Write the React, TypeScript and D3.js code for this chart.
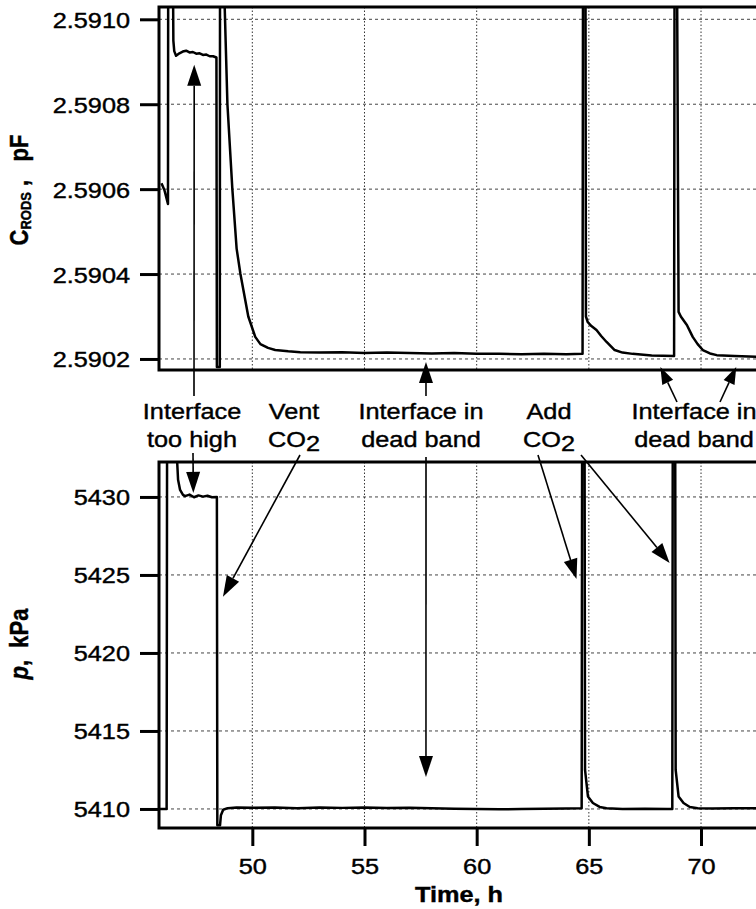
import React, { useEffect, useRef } from 'react'
import * as d3 from 'd3'

// time (h) and capacitance of the rods (pF)
const cTime = [45.95, 46.08, 46.24, 46.25, 46.46, 46.48, 46.52, 46.6, 46.75, 46.9, 47.05, 47.2, 47.35, 47.5, 47.65, 47.8, 47.95, 48.1, 48.25, 48.4,
  48.42, 48.55, 48.56, 48.7, 48.72, 48.89, 49.11, 49.3, 49.47, 49.82, 50.13, 50.36, 50.7, 51.02, 51.6, 52.14, 53, 54, 55, 56, 57, 58, 59, 60, 61, 62, 63, 64,
  64.72, 64.74, 64.85, 64.87, 64.95, 65.1, 65.34, 65.55, 65.79, 66.15, 66.5, 66.95, 67.8, 68.8,
  68.82, 68.93, 69.0, 69.1, 69.37, 69.63, 69.85, 70.08, 70.4, 70.7, 71.5, 72.54]
const cValue = [2.590614, 2.590598, 2.590565, 2.59112, 2.59112, 2.59095, 2.590925, 2.590914, 2.59092, 2.590924, 2.590926, 2.590922, 2.590923, 2.590919, 2.59092, 2.590916, 2.590917, 2.590913, 2.590913, 2.59091,
  2.590181, 2.590181, 2.59112, 2.59112, 2.59112, 2.5908, 2.5906, 2.59046, 2.5904, 2.5903, 2.590252, 2.590235, 2.590226, 2.590221, 2.590218, 2.590216, 2.590215, 2.590216, 2.590214, 2.590215, 2.590214, 2.590213, 2.590214, 2.590212, 2.590212, 2.590211, 2.590212, 2.590211,
  2.590212, 2.59112, 2.59112, 2.5903, 2.590287, 2.590278, 2.590268, 2.590254, 2.59024, 2.590221, 2.590215, 2.590212, 2.590208, 2.590207,
  2.59112, 2.59112, 2.590311, 2.5903, 2.59028, 2.590252, 2.590235, 2.590221, 2.590213, 2.590209, 2.590207, 2.590205]

// time (h) and pressure (kPa), lower panel
const pTime = [45.88, 46.18, 46.2, 46.62, 46.65, 46.69, 46.78, 46.91, 47.0, 47.2, 47.4, 47.6, 47.8, 48.0, 48.2, 48.42,
  48.44, 48.56, 48.6, 48.7, 48.9, 49.3, 50, 51, 52, 53, 54, 55, 56, 57, 58, 59, 60, 61, 62, 63, 64, 64.68,
  64.7, 64.81, 64.83, 64.96, 65.18, 65.48, 65.79, 66.5, 67.5, 68.5, 68.72,
  68.74, 68.85, 68.87, 69.0, 69.22, 69.5, 69.85, 70.5, 71.5, 72.54]
const pValue = [5410.0, 5410.0, 5433.5, 5433.5, 5432.24, 5431.1, 5430.45, 5430.13, 5430.05, 5430.15, 5429.98, 5430.1, 5430.02, 5430.08, 5429.98, 5430.0,
  5408.95, 5408.95, 5409.6, 5409.95, 5410.05, 5410.1, 5410.08, 5410.1, 5410.05, 5410.1, 5410.07, 5410.1, 5410.06, 5410.08, 5410.05, 5410.02, 5410.0, 5409.98, 5410.0, 5410.02, 5410.03, 5410.05,
  5433.5, 5433.5, 5412.5, 5410.8, 5410.38, 5410.13, 5410.05, 5410.0, 5410.02, 5410.0, 5410.0,
  5433.5, 5433.5, 5412.5, 5410.8, 5410.38, 5410.13, 5410.05, 5410.03, 5410.05, 5410.05]

const timeTicks = [50, 55, 60, 65, 70]
const cTicks = [2.5902, 2.5904, 2.5906, 2.5908, 2.591]
const pTicks = [5410, 5415, 5420, 5425, 5430]

const FONT = '"Liberation Sans", Arial, Helvetica, sans-serif'
const SX = 1.15 // the original figure is a little wide
const NB = '\u00a0'

export default function App() {
  const ref = useRef(null)

  useEffect(() => {
    const svg = d3.select(ref.current)
    svg.selectAll('*').remove()

    const left = 159, right = 760
    const x = d3.scaleLinear().domain([45.84, 72.54]).range([left, 758])
    const yC = d3.scaleLinear().domain([2.590174, 2.591029]).range([370, 7])
    const yP = d3.scaleLinear().domain([5408.78, 5432.24]).range([828, 462])

    const defs = svg.append('defs')

    function panel(y, ticks, fmt, id, times, values) {
      const [bot, top] = y.range()
      defs.append('clipPath').attr('id', id).append('rect')
        .attr('x', left).attr('y', top).attr('width', right - left).attr('height', bot - top)
      const g = svg.append('g')

      // grid
      g.selectAll('.hg').data(ticks).enter().append('line')
        .attr('x1', left).attr('x2', right).attr('y1', d => y(d)).attr('y2', d => y(d))
        .attr('stroke', '#444').attr('stroke-width', 1).attr('stroke-dasharray', '3,3')
      g.selectAll('.vg').data(timeTicks).enter().append('line')
        .attr('x1', d => x(d)).attr('x2', d => x(d)).attr('y1', top).attr('y2', bot)
        .attr('stroke', '#333').attr('stroke-width', 1).attr('stroke-dasharray', '1.5,2')

      // data
      const line = d3.line().x(i => x(times[i])).y(i => y(values[i]))
      g.append('path').attr('d', line(d3.range(times.length)))
        .attr('clip-path', `url(#${id})`)
        .attr('fill', 'none').attr('stroke', '#000').attr('stroke-width', 2.5).attr('stroke-linejoin', 'round')

      // frame
      g.append('rect').attr('x', left).attr('y', top).attr('width', right - left).attr('height', bot - top)
        .attr('fill', 'none').attr('stroke', '#000').attr('stroke-width', 3)

      // y axis
      const ax = svg.append('g').attr('transform', `translate(${left},0)`)
        .call(d3.axisLeft(y).tickValues(ticks).tickSize(19).tickFormat(fmt))
      ax.select('.domain').remove()
      ax.selectAll('line').attr('stroke', '#000').attr('stroke-width', 3)
      ax.selectAll('text').attr('x', 0).attr('dy', 8).attr('fill', '#000')
        .attr('stroke', '#000').attr('stroke-width', 0.4)
        .attr('font-size', 22).attr('font-family', FONT)
        .attr('transform', `translate(-29,0) scale(${SX},1)`)
    }

    panel(yC, cTicks, d3.format('.4f'), 'clipC', cTime, cValue)
    panel(yP, pTicks, d3.format('d'), 'clipP', pTime, pValue)

    // time axis
    const bx = svg.append('g').attr('transform', 'translate(0,828)')
      .call(d3.axisBottom(x).tickValues(timeTicks).tickSize(18).tickPadding(12))
    bx.select('.domain').remove()
    bx.selectAll('line').attr('stroke', '#000').attr('stroke-width', 3)
    bx.selectAll('text').attr('fill', '#000').attr('font-size', 22).attr('font-family', FONT)
      .attr('stroke', '#000').attr('stroke-width', 0.4)
      .attr('transform', `scale(${SX},1)`)

    const text = (px, py, anchor, rot = false) => svg.append('g')
      .attr('transform', `translate(${px},${py}) scale(${SX},1)${rot ? ' rotate(-90)' : ''}`)
      .append('text').attr('text-anchor', anchor).attr('font-family', FONT).attr('font-size', 22)
      .attr('fill', '#000').attr('stroke', '#000').attr('stroke-width', 0.4)

    text(459, 902, 'middle').attr('font-weight', 'bold').text('Time, h')

    const cl = text(28, 190, 'middle', true).attr('font-weight', 'bold')
    cl.append('tspan').text('C')
    cl.append('tspan').attr('font-size', 13).attr('dy', 3).text('RODS')
    cl.append('tspan').attr('dy', -3).text(`${NB},${NB}${NB}${NB}pF`)

    const pl = text(28, 644, 'middle', true).attr('font-weight', 'bold')
    pl.append('tspan').attr('font-style', 'italic').text('p')
    pl.append('tspan').text(`,${NB}${NB}kPa`)

    // annotations
    const notes = [
      [192, 'Interface', 'too high'],
      [294, 'Vent', 'CO2'],
      [421, 'Interface in', 'dead band'],
      [549, 'Add', 'CO2'],
      [694, 'Interface in', 'dead band'],
    ]
    notes.forEach(([cx, a, b]) => {
      text(cx, 419, 'middle').text(a)
      const t = text(cx, 447, 'middle')
      if (b === 'CO2') {
        t.append('tspan').text('CO')
        t.append('tspan').attr('dy', 4).text('2')
      } else t.text(b)
    })

    function arrow(x1, y1, x2, y2, len = 21, half = 7) {
      const dx = x2 - x1, dy = y2 - y1
      const L = Math.hypot(dx, dy), ux = dx / L, uy = dy / L
      const bx0 = x2 - ux * len, by0 = y2 - uy * len
      svg.append('line').attr('x1', x1).attr('y1', y1).attr('x2', bx0).attr('y2', by0)
        .attr('stroke', '#000').attr('stroke-width', 1.6)
      svg.append('path')
        .attr('d', `M${x2},${y2}L${bx0 - uy * half},${by0 + ux * half}L${bx0 + uy * half},${by0 - ux * half}Z`)
        .attr('fill', '#000')
    }

    arrow(194, 396, x(47.41), yC(2.590893))
    arrow(193, 453, x(47.37), yP(5430.26))
    arrow(300, 455, x(48.69), yP(5423.6), 21, 7)
    arrow(426, 396, x(57.74), yC(2.590193))
    arrow(426, 457, x(57.74), yP(5412.05))
    arrow(538, 455, x(64.45), yP(5424.74), 20, 7)
    arrow(581, 455, x(68.6), yP(5425.77), 20, 7)
    arrow(677, 402, x(68.19), yC(2.590181), 17, 6)
    arrow(720, 402, x(71.57), yC(2.590181), 17, 6)
  }, [])

  return (
    <svg ref={ref} width={756} height={909}
      style={{ position: 'absolute', left: 0, top: 0, background: '#fff' }} />
  )
}
